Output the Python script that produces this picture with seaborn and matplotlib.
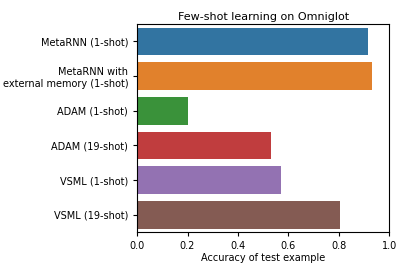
import matplotlib
matplotlib.use("Agg")
import matplotlib.pyplot as plt
import seaborn as sns
import pandas as pd

methods = [
    "MetaRNN (1-shot)",
    "MetaRNN with\nexternal memory (1-shot)",
    "ADAM (1-shot)",
    "ADAM (19-shot)",
    "VSML (1-shot)",
    "VSML (19-shot)",
]
accuracy = [0.915, 0.931, 0.201, 0.530, 0.570, 0.806]

df = pd.DataFrame({"method": methods, "accuracy": accuracy})

plt.rcParams["font.family"] = ["DejaVu Sans"]
fig, ax = plt.subplots(figsize=(4.07, 2.71), dpi=100)

sns.barplot(data=df, x="accuracy", y="method", hue="method",
            palette="tab10", legend=False, ax=ax)

ax.set_xlim(0, 1)
ax.set_title("Few-shot learning on Omniglot", fontsize=8, pad=3)
ax.set_xlabel("Accuracy of test example", fontsize=7, labelpad=1.5)
ax.set_ylabel("")
ax.tick_params(labelsize=7, width=0.8, length=3)
for s in ax.spines.values():
    s.set_linewidth(0.8)

fig.subplots_adjust(left=0.337, right=0.956, top=0.911, bottom=0.144)
fig.savefig("out.png", dpi=100)
